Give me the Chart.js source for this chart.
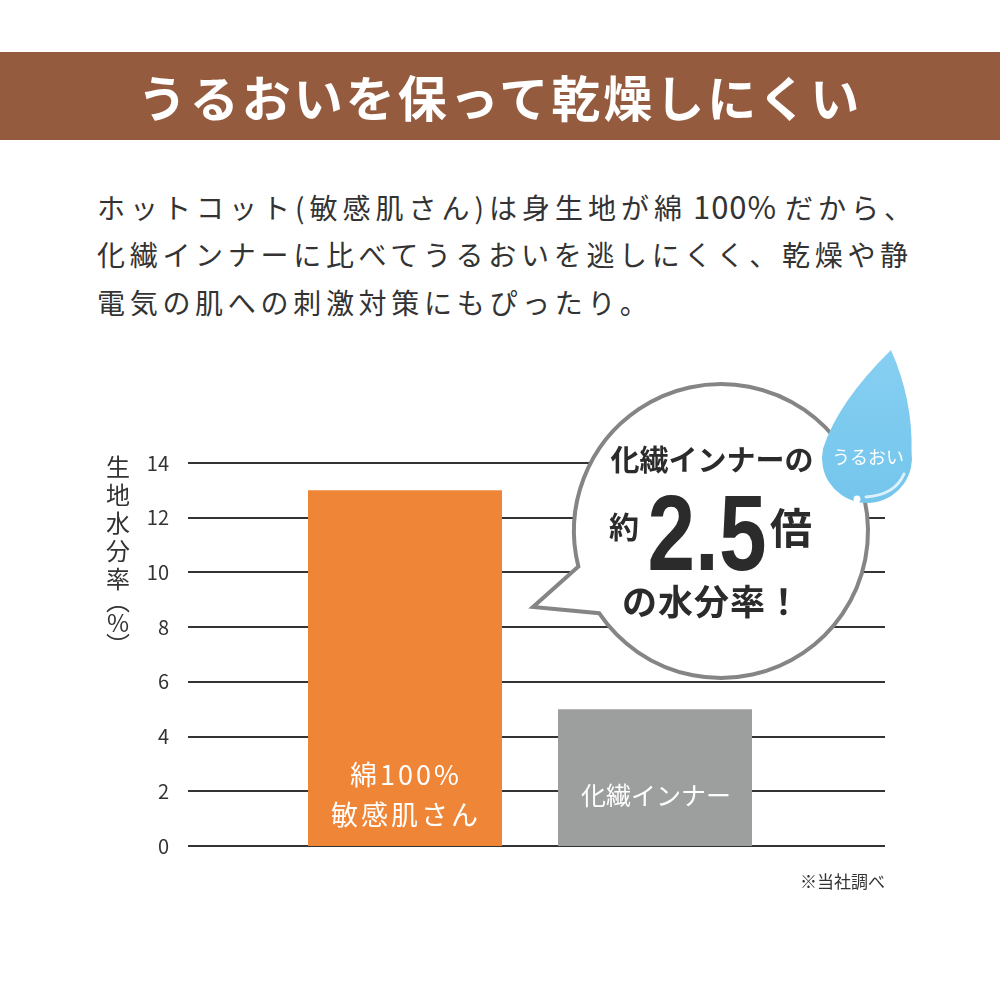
<!DOCTYPE html>
<html lang="ja">
<head>
<meta charset="utf-8">
<script src="https://cdn.jsdelivr.net/npm/chart.js@4.4.1/dist/chart.umd.min.js"></script>
<style>
  body { margin: 0; background: #fff; }
  #page { position: relative; width: 1000px; height: 1000px; overflow: hidden; font-family: "Noto Sans CJK JP", sans-serif; }
  #banner { position: absolute; left: 0; top: 52px; width: 1000px; height: 88px; background: #955b3f; color: #fff;
            font-weight: 700; font-size: 49px; line-height: 88px; text-align: center; letter-spacing: 3px; }
  .line { position: absolute; left: 97px; font-size: 28px; line-height: 48px; color: #333; letter-spacing: 4.7px; white-space: nowrap; }
  .num { font-size: 31px; letter-spacing: 1px; margin: 0 8px 0 6px; }
  #chart { position: absolute; left: 0; top: 0; }
</style>
</head>
<body>
<div id="page">
  <div id="banner">うるおいを保って乾燥しにくい</div>
  <div class="line" style="top:182px;letter-spacing:5px">ホットコット(敏感肌さん)は身生地が綿<span class="num">100%</span>だから、</div>
  <div class="line" style="top:230px">化繊インナーに比べてうるおいを逃しにくく、乾燥や静</div>
  <div class="line" style="top:278px">電気の肌への刺激対策にもぴったり。</div>
  <canvas id="chart" width="1000" height="1000"></canvas>
</div>
<script>
const categories = [["綿100%", "敏感肌さん"], ["化繊インナー"]];
const moisture = [13, 5];
const yTicks = [0, 2, 4, 6, 8, 10, 12, 14];
const yTitle = "生地水分率(%)";
const note = "※当社調べ";
const bubbleLines = ["化繊インナーの", "約", "2.5", "倍", "の水分率！"];
const dropLabel = "うるおい";

const JP = '"Noto Sans CJK JP", sans-serif';

// full-width gridlines, wider than the bar area
const gridPlugin = {
  id: "grid",
  beforeDatasetsDraw(chart) {
    const { ctx, chartArea, scales } = chart;
    ctx.save();
    ctx.strokeStyle = "#333";
    ctx.lineWidth = 2;
    scales.y.ticks.forEach((t) => {
      const y = Math.round(scales.y.getPixelForValue(t.value));
      ctx.beginPath();
      ctx.moveTo(chartArea.left - 92, y);
      ctx.lineTo(chartArea.right + 105, y);
      ctx.stroke();
    });
    ctx.restore();
  },
};

// category names written inside the bars, vertical axis title, footnote
const labelPlugin = {
  id: "labels",
  afterDatasetsDraw(chart) {
    const { ctx, scales } = chart;
    const meta = chart.getDatasetMeta(0);
    const mid = scales.y.getPixelForValue(0) - 51;
    ctx.save();
    ctx.fillStyle = "#fff";
    ctx.textAlign = "center";
    ctx.textBaseline = "middle";
    meta.data.forEach((bar, i) => {
      const lines = categories[i];
      ctx.font = (lines.length > 1 ? "27px " : "25px ") + JP;
      ctx.letterSpacing = lines.length > 1 ? "3px" : "0px";
      lines.forEach((s, j) => {
        ctx.fillText(s, bar.x + 1, mid + (j - (lines.length - 1) / 2) * 40);
      });
    });

    ctx.fillStyle = "#333";
    ctx.letterSpacing = "0px";
    ctx.font = "24px " + JP;
    const chars = [...yTitle].map((c) => (c === "(" ? "︵" : c === ")" ? "︶" : c));
    let y = 467;
    chars.forEach((c, i) => {
      ctx.fillText(c, 118, y);
      y += i < 4 ? 28 : 22;
    });

    ctx.textAlign = "right";
    ctx.font = "17px " + JP;
    ctx.fillText(note, chart.chartArea.right + 105, 882);
    ctx.restore();
  },
};

// speech bubble and water drop
const calloutPlugin = {
  id: "callout",
  afterDraw(chart) {
    const { ctx } = chart;
    const cx = 721, cy = 531, r = 147;
    const rad = (d) => (d * Math.PI) / 180;
    ctx.save();
    ctx.beginPath();
    ctx.moveTo(cx + r * Math.cos(rad(166)), cy + r * Math.sin(rad(166)));
    ctx.lineTo(533, 607);
    ctx.lineTo(cx + r * Math.cos(rad(146)), cy + r * Math.sin(rad(146)));
    ctx.arc(cx, cy, r, rad(146), rad(166), true);
    ctx.closePath();
    ctx.fillStyle = "#fff";
    ctx.fill();
    ctx.strokeStyle = "#858585";
    ctx.lineWidth = 4;
    ctx.lineJoin = "miter";
    ctx.stroke();

    ctx.fillStyle = "#2b2b2b";
    ctx.textAlign = "center";
    ctx.textBaseline = "middle";
    ctx.font = "bold 29px " + JP;
    ctx.fillText(bubbleLines[0], 712, 460);
    ctx.font = "bold 30px " + JP;
    ctx.fillText(bubbleLines[1], 624, 527);
    ctx.save();
    ctx.translate(707, 570);
    ctx.scale(0.8, 1);
    ctx.textBaseline = "alphabetic";
    ctx.font = 'bold 107px "Liberation Sans", sans-serif';
    ctx.fillText(bubbleLines[2], 0, 0);
    ctx.restore();
    ctx.font = "bold 42px " + JP;
    ctx.fillText(bubbleLines[3], 791, 528);
    ctx.font = "bold 35px " + JP;
    ctx.letterSpacing = "1px";
    ctx.fillText(bubbleLines[4], 712, 602);
    ctx.letterSpacing = "0px";

    // drop
    const dx = 867, dy = 458, dr = 45;
    const lx = dx + dr * Math.cos(rad(192)), ly = dy + dr * Math.sin(rad(192));
    ctx.beginPath();
    ctx.moveTo(891, 350);
    ctx.quadraticCurveTo(838, 402, lx, ly);
    ctx.arc(dx, dy, dr, rad(192), rad(-8), true);
    ctx.quadraticCurveTo(913, 400, 891, 350);
    ctx.closePath();
    const g = ctx.createLinearGradient(0, 350, 0, 503);
    g.addColorStop(0, "#86cff2");
    g.addColorStop(1, "#74c5ec");
    ctx.fillStyle = g;
    ctx.fill();

    ctx.strokeStyle = "rgba(255,255,255,0.75)";
    ctx.lineWidth = 3;
    ctx.lineCap = "round";
    ctx.beginPath();
    ctx.moveTo(866, 497);
    ctx.quadraticCurveTo(895, 495, 904, 474);
    ctx.stroke();
    ctx.fillStyle = "#fff";
    ctx.beginPath();
    ctx.arc(857, 499, 3.5, 0, Math.PI * 2);
    ctx.fill();

    ctx.font = "18px " + JP;
    ctx.fillText(dropLabel, 868, 457);
    ctx.restore();
  },
};

new Chart(document.getElementById("chart"), {
  type: "bar",
  data: {
    labels: categories,
    datasets: [
      {
        data: moisture,
        backgroundColor: ["#ef8637", "#9d9e9e"],
        borderWidth: 0,
        categoryPercentage: 1,
        barPercentage: 0.776,
      },
    ],
  },
  options: {
    responsive: false,
    animation: false,
    layout: { padding: { top: 463, bottom: 154, left: 0, right: 220 } },
    plugins: { legend: { display: false }, tooltip: { enabled: false } },
    scales: {
      x: { display: false, offset: true },
      y: {
        min: 0,
        max: 14,
        afterFit: (s) => { s.width = 280; },
        afterBuildTicks: (s) => { s.ticks = yTicks.map((v) => ({ value: v })); },
        grid: { display: false },
        border: { display: false },
        ticks: { padding: 103, color: "#333", font: { family: "Noto Sans CJK JP", size: 20 } },
      },
    },
  },
  plugins: [gridPlugin, labelPlugin, calloutPlugin],
});
</script>
</body>
</html>
